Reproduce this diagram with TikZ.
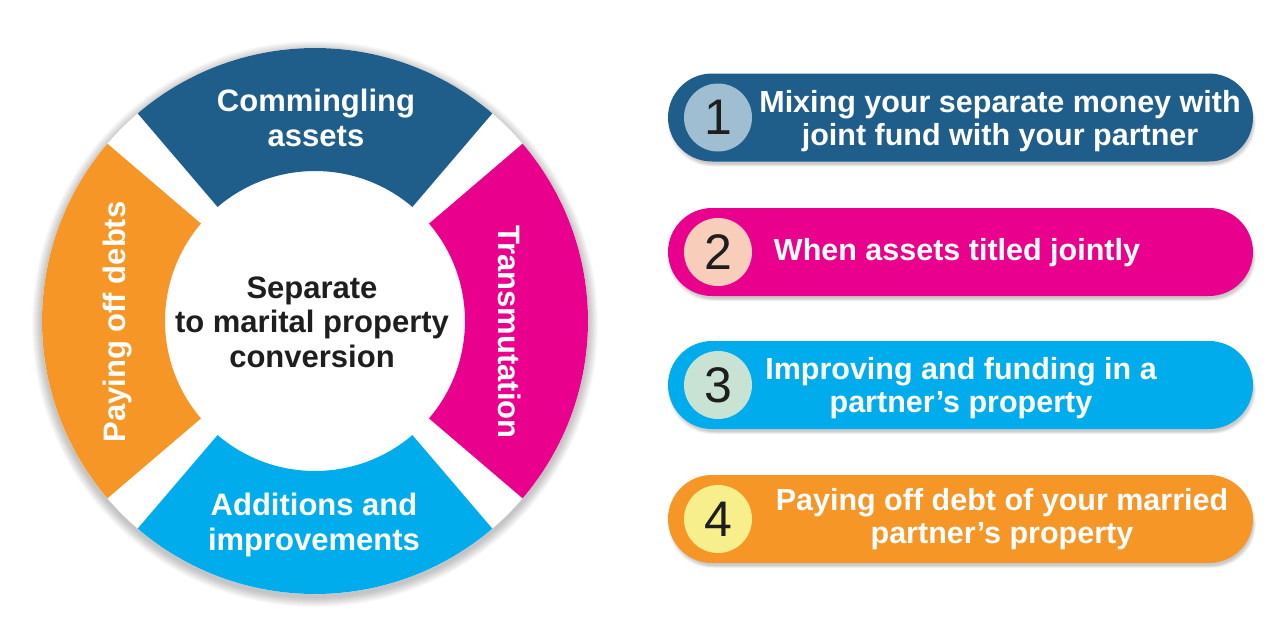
\documentclass[tikz,border=0pt]{standalone}
\usepackage{fontspec}
\setmainfont{Liberation Sans}
\usetikzlibrary{calc}
\definecolor{cblue}{RGB}{31,94,138}
\definecolor{cmag}{RGB}{233,0,140}
\definecolor{ccyan}{RGB}{0,172,236}
\definecolor{corange}{RGB}{246,150,38}
\definecolor{bone}{RGB}{160,190,210}
\definecolor{btwo}{RGB}{248,206,186}
\definecolor{bthree}{RGB}{200,226,212}
\definecolor{bfour}{RGB}{247,238,140}
\definecolor{dtext}{RGB}{30,30,30}
\newcommand\ringseg[3]{%
  \fill[#3] ($(C)+(#1:\Ro)$) arc[start angle=#1,end angle=#2,radius=\Ro]
    -- ($(C)+(#2:\Ri)$) arc[start angle=#2,end angle=#1,radius=\Ri] -- cycle;}
\newcommand\pillshadow[2]{%
  \foreach \k in {0,...,5}{
    \fill[black,opacity=0.035,rounded corners=44pt]
      ($(#1,#2)+(-292.5+\k*0.6,-44+6+\k*0.5)$) rectangle ($(#1,#2)+(292.5+3-\k*0.6,44+5-\k*0.5)$);}}
\begin{document}
\begin{tikzpicture}[x=1pt,y=-1pt,
  segtext/.style={text=white,font=\fontsize{31}{35}\selectfont\bfseries,align=center,inner sep=0pt},
  centertext/.style={text=dtext,font=\fontsize{31}{34.5}\selectfont\bfseries,align=center,inner sep=0pt},
  pill/.style={rounded corners=44pt,minimum width=585pt,minimum height=88pt,inner sep=0pt},
  badge/.style={circle,minimum size=68pt,inner sep=0pt,text=dtext,font=\fontsize{50}{50}\selectfont},
  pilltext/.style={text=white,font=\fontsize{30.5}{32.5}\selectfont\bfseries,align=center,inner sep=0pt}]
\useasboundingbox (0,0) rectangle (1280,641);
\fill[white] (0,0) rectangle (1280,641);
% ring
\coordinate (C) at (315,321);
\def\Ro{273}\def\Ri{150}
\foreach \i in {1,...,10}
  \fill[black,opacity=0.022] ($(C)+(0,3)$) circle[radius=\Ro+\i];
\fill[white] (C) circle[radius=\Ro];
\ringseg{-40.5}{40.5}{cmag}
\ringseg{49.5}{130.5}{ccyan}
\ringseg{139.5}{220.5}{corange}
\ringseg{229.5}{310.5}{cblue}
\node[segtext] (tcomm) at (316,118) {Commingling\\assets};
\node[segtext] (tadd) at (314,525) {Additions and\\improvements};
\node[segtext,rotate=90] (tpay) at (118,322) {Paying off debts};
\node[segtext,rotate=-90] (ttrans) at (510,332) {Transmutation};
\node[centertext] (ctr) at (312,322) {Separate\\to marital property\\conversion};
% pills
\pillshadow{960.5}{117.5}
\pillshadow{960.5}{252}
\pillshadow{960.5}{385}
\pillshadow{960.5}{519}
\node[pill,fill=cblue] (p1) at (960.5,117.5) {};
\node[pill,fill=cmag] (p2) at (960.5,252) {};
\node[pill,fill=ccyan] (p3) at (960.5,385) {};
\node[pill,fill=corange] (p4) at (960.5,519) {};
\node[badge,fill=bone] (n1) at (718,117.5) {1};
\node[badge,fill=btwo] (n2) at (718,252) {2};
\node[badge,fill=bthree] (n3) at (718,385) {3};
\node[badge,fill=bfour] (n4) at (718,519) {4};
\node[pilltext] (t1) at (1000,121) {Mixing your separate money with\\joint fund with your partner};
\node[pilltext] (t2) at (957,253) {When assets titled jointly};
\node[pilltext] (t3) at (961,388) {Improving and funding in a\\partner’s property};
\node[pilltext] (t4) at (1002,519) {Paying off debt of your married\\partner’s property};
\end{tikzpicture}
\end{document}
